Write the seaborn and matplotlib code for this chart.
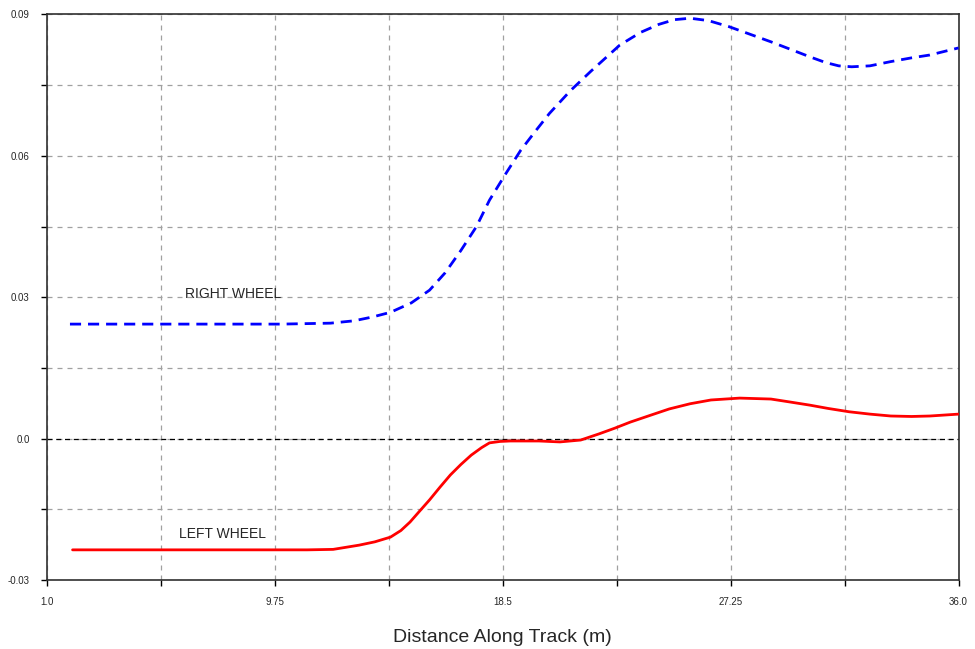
import matplotlib
matplotlib.use("Agg")
import matplotlib.pyplot as plt
import seaborn as sns
import pandas as pd
import numpy as np

sns.set_theme(style="white")
plt.rcParams["font.family"] = ["Liberation Sans", "DejaVu Sans"]

# values
right_x = [1.9, 4.0, 7.0, 10.0, 11.9, 12.8, 13.5, 14.2, 15.0, 15.7, 16.3, 16.9, 17.5,
           18.0, 18.6, 19.2, 19.8, 20.3, 21.1, 21.9, 22.5, 23.0, 23.8, 24.5, 25.1,
           25.7, 26.4, 27.2, 28.0, 28.8, 29.6, 30.3, 30.9, 31.4, 31.9, 32.6, 33.4,
           34.2, 34.9, 36.0]
right_y = [0.0243, 0.0243, 0.0243, 0.0243, 0.0245, 0.0250, 0.0258, 0.0268, 0.0288,
           0.0315, 0.0352, 0.0399, 0.0450, 0.0506, 0.0560, 0.0612, 0.0655, 0.0690,
           0.0738, 0.0780, 0.0810, 0.0835, 0.0862, 0.0879, 0.0889, 0.0892, 0.0887,
           0.0874, 0.0858, 0.0842, 0.0825, 0.0810, 0.0798, 0.0791, 0.0789, 0.0791,
           0.0800, 0.0808, 0.0814, 0.0829]

left_x = [2.0, 5.0, 8.0, 11.0, 12.0, 13.0, 13.6, 14.2, 14.6, 14.95, 15.3, 15.7, 16.1,
          16.5, 16.9, 17.3, 17.7, 18.0, 18.4, 18.8, 19.4, 19.9, 20.3, 20.7, 21.1,
          21.5, 22.2, 22.8, 23.4, 24.2, 24.9, 25.7, 26.5, 27.6, 28.8, 29.5, 30.3,
          31.0, 31.8, 32.6, 33.4, 34.2, 34.9, 36.0]
left_y = [-0.0236, -0.0236, -0.0236, -0.0236, -0.0235, -0.0226, -0.0219, -0.0209,
          -0.0195, -0.0177, -0.0155, -0.0130, -0.0103, -0.0077, -0.0055, -0.0035,
          -0.0019, -0.0009, -0.0006, -0.0005, -0.0005, -0.0005, -0.0006, -0.0007,
          -0.0005, -0.0003, 0.0010, 0.0022, 0.0035, 0.0050, 0.0063, 0.0074, 0.0082,
          0.0086, 0.0084, 0.0078, 0.0071, 0.0064, 0.0057, 0.0052, 0.0048, 0.0047,
          0.0048, 0.0052]

x_labels = ["1.0", "9.75", "18.5", "27.25", "36.0"]
y_labels = ["-0.03", "0.0", "0.03", "0.06", "0.09"]

df = pd.concat([
    pd.DataFrame({"x": right_x, "y": right_y, "wheel": "RIGHT WHEEL"}),
    pd.DataFrame({"x": left_x, "y": left_y, "wheel": "LEFT WHEEL"}),
])

fig = plt.figure(figsize=(9.75, 6.49), dpi=100)
ax = fig.add_axes([0.0477, 0.1063, 0.9354, 0.8714])

sns.lineplot(data=df, x="x", y="y", hue="wheel", style="wheel",
             palette={"RIGHT WHEEL": "#0000ff", "LEFT WHEEL": "#ff0000"},
             dashes={"RIGHT WHEEL": (4, 2.5), "LEFT WHEEL": ""},
             linewidth=2, sort=False, legend=False, ax=ax, zorder=3)

ax.set_xlim(1.0, 36.0)
ax.set_ylim(-0.03, 0.09)
ax.set_xticks(np.arange(1.0, 36.01, 4.375))
ax.set_yticks(np.arange(-0.03, 0.0901, 0.015))
ax.set_xticklabels([x_labels[i // 2] if i % 2 == 0 else "" for i in range(9)])
ax.set_yticklabels([y_labels[i // 2] if i % 2 == 0 else "" for i in range(9)])
ax.tick_params(direction="out", length=4, width=1, color="black",
               labelsize=7, pad=8, bottom=True, left=True)
ax.grid(True, color="#a0a0a0", linestyle=(0, (4, 4)), linewidth=0.9)
ax.axhline(0, color="black", linestyle=(0, (4, 3)), linewidth=0.9, zorder=2)
for s in ax.spines.values():
    s.set_color("#303030")
    s.set_linewidth(1.2)

ax.text(6.3, 0.0307, "RIGHT WHEEL", fontsize=10, va="center", ha="left")
ax.text(6.1, -0.0202, "LEFT WHEEL", fontsize=10, va="center", ha="left")

ax.set_xlabel("Distance Along Track (m)", fontsize=14, labelpad=16)
ax.set_ylabel("")

plt.savefig("out.png", dpi=100)
plt.close()
